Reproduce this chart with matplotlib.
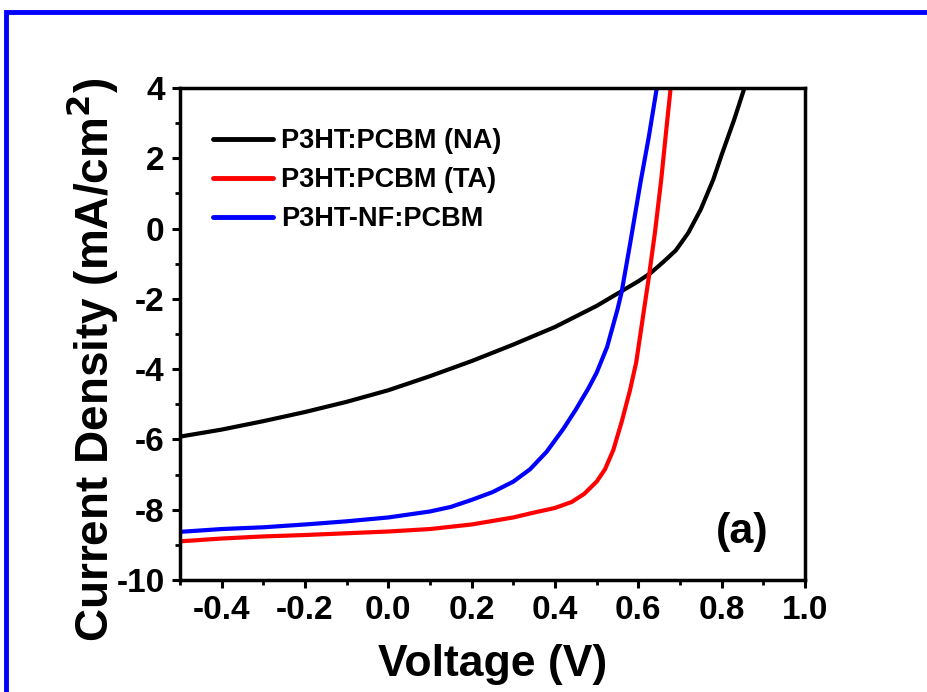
import matplotlib
matplotlib.use("Agg")
import matplotlib.pyplot as plt
import matplotlib.patches as patches
from matplotlib.ticker import MultipleLocator, FormatStrFormatter

plt.rcParams['font.family'] = ['Liberation Sans', 'DejaVu Sans']
plt.rcParams['font.weight'] = 'bold'
plt.rcParams['axes.unicode_minus'] = False

# J-V curves (V in volts, J in mA/cm2)
v_na = [-0.5, -0.4, -0.3, -0.2, -0.1, 0.0, 0.1, 0.2, 0.3, 0.4, 0.45, 0.5,
        0.55, 0.6, 0.63, 0.66, 0.69, 0.72, 0.75, 0.78, 0.8, 0.83, 0.856]
j_na = [-5.92, -5.72, -5.48, -5.22, -4.93, -4.6, -4.2, -3.77, -3.3, -2.8,
        -2.5, -2.2, -1.85, -1.5, -1.26, -0.95, -0.62, -0.12, 0.55, 1.4, 2.1,
        3.1, 4.05]

v_ta = [-0.5, -0.4, -0.3, -0.2, -0.1, 0.0, 0.1, 0.2, 0.3, 0.35, 0.4, 0.44,
        0.47, 0.5, 0.52, 0.54, 0.56, 0.58, 0.595, 0.61, 0.625, 0.64, 0.655,
        0.667, 0.678]
j_ta = [-8.9, -8.82, -8.76, -8.72, -8.67, -8.62, -8.55, -8.42, -8.22, -8.08,
        -7.95, -7.78, -7.55, -7.2, -6.85, -6.3, -5.5, -4.6, -3.8, -2.6, -1.4,
        -0.1, 1.4, 2.8, 4.05]

v_nf = [-0.5, -0.4, -0.3, -0.2, -0.1, 0.0, 0.1, 0.15, 0.2, 0.25, 0.3, 0.34,
        0.38, 0.42, 0.45, 0.48, 0.5, 0.525, 0.55, 0.56, 0.58, 0.605, 0.625,
        0.645]
j_nf = [-8.63, -8.55, -8.5, -8.42, -8.33, -8.22, -8.05, -7.92, -7.72, -7.5,
        -7.2, -6.85, -6.35, -5.7, -5.15, -4.55, -4.1, -3.37, -2.3, -1.8,
        -0.45, 1.3, 2.6, 4.05]

labels = ['P3HT:PCBM (NA)', 'P3HT:PCBM (TA)', 'P3HT-NF:PCBM']
colors = ['black', 'red', 'blue']

fig = plt.figure(figsize=(9.27, 6.92), dpi=100)
ax = fig.add_axes([180 / 927, 1 - 580 / 692, 625 / 927, 492 / 692])

for v, j, lab, c in zip([v_na, v_ta, v_nf], [j_na, j_ta, j_nf], labels, colors):
    ax.plot(v, j, color=c, lw=3, label=lab, solid_capstyle='round',
            solid_joinstyle='round')

ax.set_xlim(-0.5, 1.0)
ax.set_ylim(-10, 4)
ax.xaxis.set_minor_locator(MultipleLocator(0.1))
ax.yaxis.set_major_locator(MultipleLocator(2))
ax.yaxis.set_minor_locator(MultipleLocator(1))
ax.xaxis.set_major_formatter(FormatStrFormatter('%.1f'))
ax.set_xticks([-0.4, -0.2, 0.0, 0.2, 0.4, 0.6, 0.8, 1.0])

for s in ax.spines.values():
    s.set_linewidth(2.5)
ax.tick_params(which='major', direction='out', length=6, width=2.2,
               labelsize=24, pad=5)
ax.tick_params(which='minor', direction='out', length=3.5, width=2)

ax.set_xlabel('Voltage (V)', fontsize=32, fontweight='bold')
ax.xaxis.label.set_va('center')
ax.xaxis.set_label_coords(0.5, -0.171)
ax.set_ylabel('Current Density (mA/cm$^{\\mathbf{2}}$)', fontsize=33,
              fontweight='bold')
ax.yaxis.label.set_va('center')
ax.yaxis.set_label_coords(-0.14, 0.447)

leg = ax.legend(loc='upper left', bbox_to_anchor=(0.053, 0.918), frameon=False,
                fontsize=19.5, handlelength=2.2, handletextpad=0.3,
                labelspacing=0.48, borderpad=0, borderaxespad=0)
for line in leg.get_lines():
    line.set_linewidth(3.5)

ax.text(0.90, 0.098, '(a)', transform=ax.transAxes, fontsize=31,
        fontweight='bold', ha='center', va='center')

# blue frame round the figure (only top and left edges show)
fig.patches.append(patches.Rectangle(
    (5.5 / 927, -0.05), 1.2, 1 - 11.5 / 692 + 0.05,
    transform=fig.transFigure, fill=False, edgecolor='#0000ff', lw=3.5))

fig.savefig('out.png', dpi=100)
